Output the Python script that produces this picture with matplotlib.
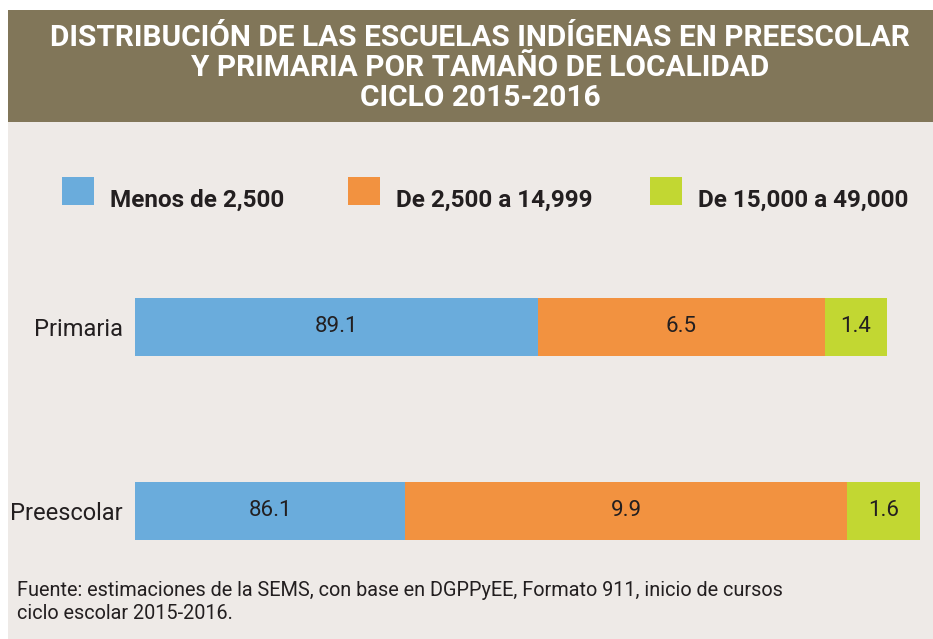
import matplotlib
matplotlib.use("Agg")
import matplotlib.pyplot as plt
from matplotlib.patches import Rectangle

# data
categories = ["Preescolar", "Primaria"]
series_names = ["Menos de 2,500", "De 2,500 a 14,999", "De 15,000 a 49,000"]
values = {
    "Preescolar": [86.1, 9.9, 1.6],
    "Primaria": [89.1, 6.5, 1.4],
}
# segment lengths as drawn in the source (% of plot width, not proportional to the values)
drawn_lengths = {
    "Preescolar": [34.4, 56.3, 9.3],
    "Primaria": [51.3, 36.6, 7.9],
}
colors = ["#6aacdc", "#f29240", "#c2d732"]

title = ("DISTRIBUCIÓN DE LAS ESCUELAS INDÍGENAS EN PREESCOLAR\n"
         "Y PRIMARIA POR TAMAÑO DE LOCALIDAD\n"
         "CICLO 2015-2016")
source = ("Fuente: estimaciones de la SEMS, con base en DGPPyEE, Formato 911, inicio de cursos\n"
          "ciclo escolar 2015-2016.")

plt.rcParams["font.family"] = ["Roboto", "DejaVu Sans"]

W, H = 933, 639
fig = plt.figure(figsize=(W / 100, H / 100), dpi=100, facecolor="white")

def px(x0, y0, x1, y1):
    # pixel box (top-left origin) -> figure fraction rect
    return (x0 / W, 1 - y1 / H, (x1 - x0) / W, (y1 - y0) / H)

# panel background and header band
r = px(8, 122, W, H)
fig.patches.append(Rectangle(r[:2], r[2], r[3], transform=fig.transFigure,
                             facecolor="#eeeae7", edgecolor="none", zorder=-10))
r = px(8, 10, W, 122)
fig.patches.append(Rectangle(r[:2], r[2], r[3], transform=fig.transFigure,
                             facecolor="#817659", edgecolor="none", zorder=-10))

fig.text(480 / W, 1 - 68 / H, title, ha="center", va="center", color="white",
         fontsize=21.5, fontweight="bold", linespacing=1.1)

# legend
leg_x = [62, 348, 650]
for i, name in enumerate(series_names):
    r = px(leg_x[i], 177, leg_x[i] + 32, 205)
    fig.patches.append(Rectangle(r[:2], r[2], r[3], transform=fig.transFigure,
                                 facecolor=colors[i], edgecolor="none"))
    fig.text((leg_x[i] + 48) / W, 1 - 200 / H, name, ha="left", va="center",
             fontsize=17.5, fontweight="semibold", color="#231f20")

# bars
ax = fig.add_axes(px(135, 235, 920, 603))
ax.set_zorder(2)
ax.set_facecolor("none")
for yi, cat in enumerate(categories):
    left = 0
    for j in range(3):
        w = drawn_lengths[cat][j]
        ax.barh(yi, w, left=left, height=0.315, color=colors[j], edgecolor="none")
        ax.text(left + w / 2, yi, f"{values[cat][j]:.1f}", ha="center", va="center",
                fontsize=16, color="#231f20")
        left += w
ax.set_xlim(0, 100)
ax.set_ylim(-0.5, 1.5)
ax.set_yticks(range(len(categories)))
ax.set_yticklabels(categories, fontsize=17, color="#231f20")
ax.tick_params(axis="y", length=0, pad=9)
ax.set_xticks([])
for s in ax.spines.values():
    s.set_visible(False)

fig.text(17 / W, 1 - 602 / H, source, ha="left", va="center", fontsize=14.3,
         color="#231f20", linespacing=1.25)

fig.savefig("out.png", dpi=100, facecolor="white")
